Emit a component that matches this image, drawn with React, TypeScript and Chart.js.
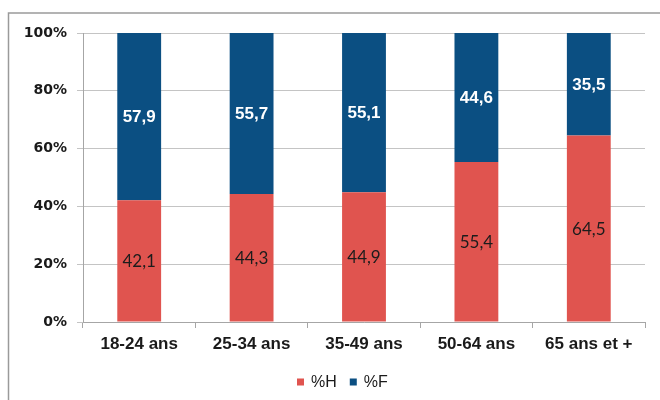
import React, { useEffect, useRef } from "react";
import { Chart, registerables } from "chart.js";

Chart.register(...registerables);

const categories = ["18-24 ans", "25-34 ans", "35-49 ans", "50-64 ans", "65 ans et +"];
const valuesH = [42.1, 44.3, 44.9, 55.4, 64.5];
const valuesF = [57.9, 55.7, 55.1, 44.6, 35.5];
const yTicks = [0, 20, 40, 60, 80, 100];
const seriesNames = ["%H", "%F"];

const RED = "#E0544F";
const BLUE = "#0B4F82";

const fmt = (v: number) => v.toFixed(1).replace(".", ",");

const framePlugin = {
  id: "frame",
  beforeDraw(chart: any) {
    const ctx = chart.ctx;
    ctx.save();
    ctx.fillStyle = "#ffffff";
    ctx.fillRect(0, 0, chart.width, chart.height);
    ctx.strokeStyle = "#9a9a9a";
    ctx.lineWidth = 1.5;
    ctx.beginPath();
    ctx.moveTo(8.5, chart.height);
    ctx.lineTo(8.5, 13);
    ctx.lineTo(chart.width, 13);
    ctx.stroke();
    ctx.restore();
  },
};

const labelPlugin = {
  id: "segLabels",
  afterDatasetsDraw(chart: any) {
    const ctx = chart.ctx;
    ctx.save();
    ctx.textAlign = "center";
    ctx.textBaseline = "middle";
    chart.data.datasets.forEach((ds: any, di: number) => {
      const meta = chart.getDatasetMeta(di);
      meta.data.forEach((bar: any, i: number) => {
        const v = ds.data[i];
        const y = (bar.y + bar.base) / 2;
        if (di === 0) {
          ctx.font = "17px Lato, 'Noto Sans', sans-serif";
          ctx.fillStyle = "#1c1c1c";
        } else {
          ctx.font = "bold 17px 'Liberation Sans', Arial, sans-serif";
          ctx.fillStyle = "#ffffff";
        }
        ctx.fillText(fmt(v), bar.x, y + 1);
      });
    });
    ctx.restore();
  },
};

const legendPlugin = {
  id: "customLegend",
  afterDraw(chart: any) {
    const ctx = chart.ctx;
    ctx.save();
    ctx.font = "16px 'Liberation Sans', Arial, sans-serif";
    ctx.textBaseline = "middle";
    ctx.textAlign = "left";
    const y = 382;
    let x = 297;
    chart.data.datasets.forEach((ds: any) => {
      ctx.fillStyle = ds.backgroundColor;
      ctx.fillRect(x, y - 3.5, 7, 7);
      ctx.fillStyle = "#1a1a1a";
      ctx.fillText(ds.label, x + 14, y + 0.5);
      x += 14 + ctx.measureText(ds.label).width + 13;
    });
    ctx.restore();
  },
};

export default function App() {
  const ref = useRef<HTMLCanvasElement>(null);
  useEffect(() => {
    document.body.style.margin = "0";
    const chart = new Chart(ref.current!, {
      type: "bar",
      data: {
        labels: categories,
        datasets: [
          { label: seriesNames[0], data: valuesH, backgroundColor: RED, barPercentage: 0.39, categoryPercentage: 1 },
          { label: seriesNames[1], data: valuesF, backgroundColor: BLUE, barPercentage: 0.39, categoryPercentage: 1 },
        ],
      },
      options: {
        responsive: false,
        animation: false,
        layout: { padding: { top: 33, right: 15, left: 0, bottom: 0 } },
        plugins: { legend: { display: false }, tooltip: { enabled: false } },
        scales: {
          x: {
            stacked: true,
            grid: { display: true, drawOnChartArea: false, drawTicks: true, tickLength: 6, color: "#a6a6a6", offset: true },
            border: { display: true, color: "#a6a6a6", width: 1 },
            ticks: {
              padding: 6,
              color: "#1a1a1a",
              font: { family: "'Liberation Sans', Arial, sans-serif", size: 17, weight: "bold" },
              maxRotation: 0,
              autoSkip: false,
            },
            afterFit(scale: any) {
              scale.height = 78;
            },
          },
          y: {
            stacked: true,
            min: 0,
            max: 100,
            afterBuildTicks(scale: any) {
              scale.ticks = yTicks.map((v) => ({ value: v }));
            },
            grid: { color: "#c4c4c4", tickLength: 6, lineWidth: 1 },
            border: { display: true, color: "#a6a6a6", width: 1 },
            ticks: {
              padding: 10,
              color: "#1a1a1a",
              font: { family: "'DejaVu Sans', sans-serif", size: 14, weight: "bold" },
              callback: (v: any) => v + "%",
            },
            afterFit(scale: any) {
              scale.width = 83;
            },
          },
        },
      },
      plugins: [framePlugin, labelPlugin, legendPlugin],
    });
    return () => chart.destroy();
  }, []);
  return <canvas ref={ref} width={660} height={400} style={{ display: "block" }} />;
}
